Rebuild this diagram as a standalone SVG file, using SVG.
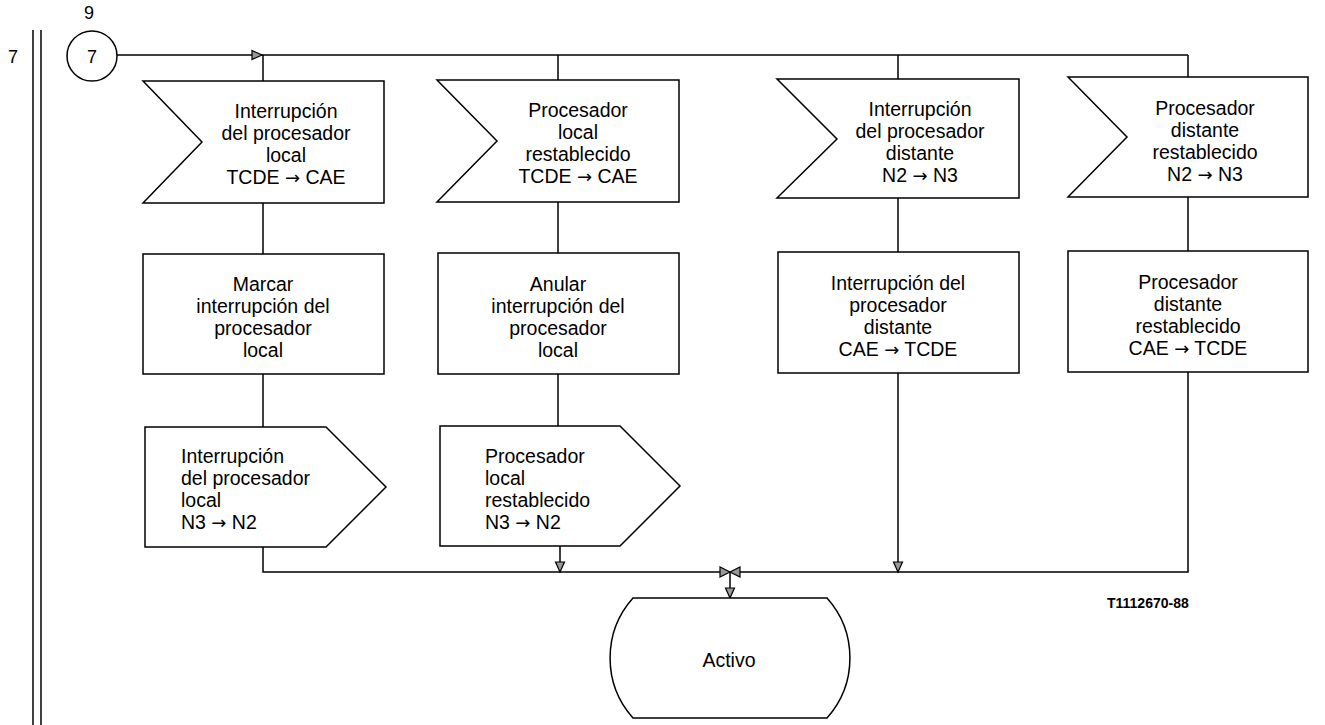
<svg xmlns="http://www.w3.org/2000/svg" width="1325" height="725" viewBox="0 0 1325 725">
<style>
.s{fill:#fff;stroke:#000;stroke-width:1.5}
.c{fill:none;stroke:#000;stroke-width:1.5}
.a{fill:#999;stroke:#000;stroke-width:1.2;stroke-linejoin:miter}
text{font-family:"Liberation Sans",Arial,Helvetica,sans-serif;font-size:19.5px;fill:#000}
.m{text-anchor:middle}
.r{font-family:"DejaVu Sans",sans-serif;font-size:18px}
.lbl{font-size:18px}
.ref{font-size:14px;font-weight:bold}
</style>
<rect width="1325" height="725" fill="#fff"/>
<g id="margin">
<line class="c" x1="33" y1="30" x2="33" y2="725"/>
<line class="c" x1="41" y1="30" x2="41" y2="725"/>
<text class="lbl m" x="13" y="63">7</text>
<text class="lbl m" x="89" y="19">9</text>
</g>
<g id="connectors">
<path class="c" d="M117,55 H1188"/>
<path class="c" d="M263,55 V81 M558,55 V80 M898,55 V79 M1188,55 V77"/>
<path class="c" d="M263,203 V254 M263,374 V427 M263,547 V572 H722"/>
<path class="c" d="M558,202 V253 M558,374 V426 M560,546 V572"/>
<path class="c" d="M898,198 V252 M898,373 V572"/>
<path class="c" d="M1188,197 V251 M1188,372 V572 H738"/>
<path class="c" d="M730,572 V598"/>
<polygon class="a" points="252,50.5 252,59.5 262,55"/>
<polygon class="a" points="555.5,562 564.5,562 560,572"/>
<polygon class="a" points="893.5,562 902.5,562 898,572"/>
<polygon class="a" points="720,567 720,577 730,572"/>
<polygon class="a" points="740,567 740,577 730,572"/>
<polygon class="a" points="725.5,588 734.5,588 730,598"/>
</g>
<g id="connector-start">
<circle class="s" cx="92" cy="56" r="25"/>
<text class="lbl m" x="92" y="63">7</text>
</g>
<g id="in1">
<path class="s" d="M143,81 H384 V203 H143 L202,142 Z"/>
<text class="m" x="286" y="118">Interrupción</text>
<text class="m" x="286" y="140">del procesador</text>
<text class="m" x="286" y="162">local</text>
<text class="m" x="286" y="184">TCDE <tspan class="r">→</tspan> CAE</text>
</g>
<g id="in2">
<path class="s" d="M437,80 H679 V202 H437 L497,141 Z"/>
<text class="m" x="578" y="117">Procesador</text>
<text class="m" x="578" y="139">local</text>
<text class="m" x="578" y="161">restablecido</text>
<text class="m" x="578" y="183">TCDE <tspan class="r">→</tspan> CAE</text>
</g>
<g id="in3">
<path class="s" d="M777,79 H1019 V198 H777 L837,139 Z"/>
<text class="m" x="920" y="116">Interrupción</text>
<text class="m" x="920" y="138">del procesador</text>
<text class="m" x="920" y="160">distante</text>
<text class="m" x="920" y="182">N2 <tspan class="r">→</tspan> N3</text>
</g>
<g id="in4">
<path class="s" d="M1068,77 H1308 V197 H1068 L1127,137 Z"/>
<text class="m" x="1205" y="115">Procesador</text>
<text class="m" x="1205" y="137">distante</text>
<text class="m" x="1205" y="159">restablecido</text>
<text class="m" x="1205" y="181">N2 <tspan class="r">→</tspan> N3</text>
</g>
<g id="task1">
<rect class="s" x="143" y="254" width="241" height="120"/>
<text class="m" x="263" y="291">Marcar</text>
<text class="m" x="263" y="313">interrupción del</text>
<text class="m" x="263" y="335">procesador</text>
<text class="m" x="263" y="357">local</text>
</g>
<g id="task2">
<rect class="s" x="438" y="253" width="241" height="121"/>
<text class="m" x="558" y="291">Anular</text>
<text class="m" x="558" y="313">interrupción del</text>
<text class="m" x="558" y="335">procesador</text>
<text class="m" x="558" y="357">local</text>
</g>
<g id="task3">
<rect class="s" x="778" y="252" width="241" height="121"/>
<text class="m" x="898" y="290">Interrupción del</text>
<text class="m" x="898" y="312">procesador</text>
<text class="m" x="898" y="334">distante</text>
<text class="m" x="898" y="356">CAE <tspan class="r">→</tspan> TCDE</text>
</g>
<g id="task4">
<rect class="s" x="1068" y="251" width="240" height="121"/>
<text class="m" x="1188" y="289">Procesador</text>
<text class="m" x="1188" y="311">distante</text>
<text class="m" x="1188" y="333">restablecido</text>
<text class="m" x="1188" y="355">CAE <tspan class="r">→</tspan> TCDE</text>
</g>
<g id="out1">
<path class="s" d="M145,427 H326 L386,487 L326,547 H145 Z"/>
<text x="181" y="463">Interrupción</text>
<text x="181" y="485">del procesador</text>
<text x="181" y="507">local</text>
<text x="181" y="529">N3 <tspan class="r">→</tspan> N2</text>
</g>
<g id="out2">
<path class="s" d="M440,426 H620 L680,486 L620,546 H440 Z"/>
<text x="485" y="463">Procesador</text>
<text x="485" y="485">local</text>
<text x="485" y="507">restablecido</text>
<text x="485" y="529">N3 <tspan class="r">→</tspan> N2</text>
</g>
<g id="state">
<path class="s" d="M633,598 H827 A90 90 0 0 1 827,718 H633 A90 90 0 0 1 633,598 Z"/>
<text class="m" x="729" y="667">Activo</text>
</g>
<g id="ref">
<text class="ref" x="1107" y="608">T1112670-88</text>
</g>
</svg>
